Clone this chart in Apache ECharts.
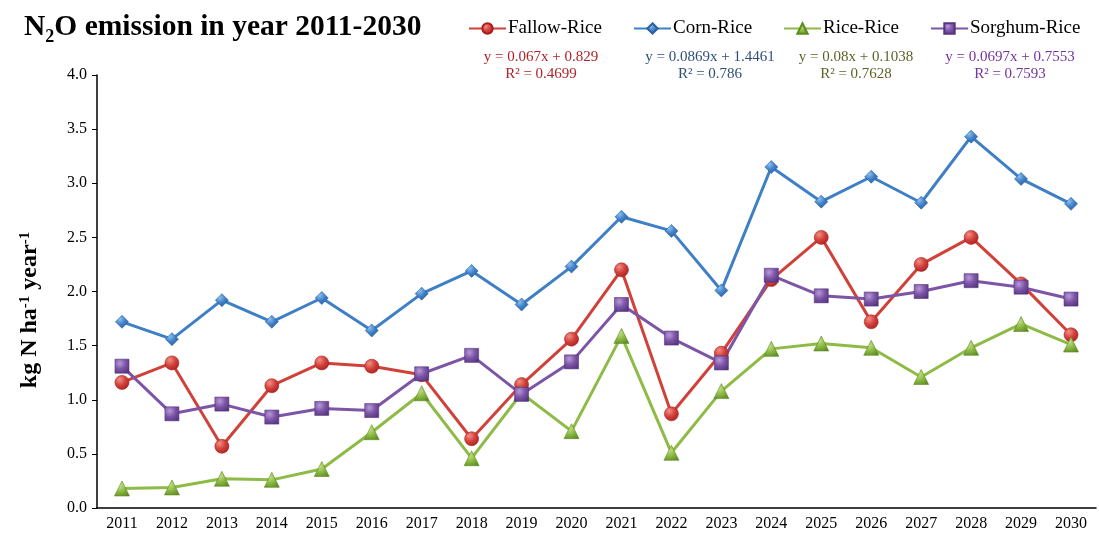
<!DOCTYPE html>
<html><head><meta charset="utf-8">
<script src="https://cdn.jsdelivr.net/npm/echarts@6/dist/echarts.min.js"></script>
<style>html,body{margin:0;padding:0;background:#fff}#c{width:1099px;height:541px}</style>
</head><body><div id="c"></div>
<script>
const years = ['2011','2012','2013','2014','2015','2016','2017','2018','2019','2020','2021','2022','2023','2024','2025','2026','2027','2028','2029','2030'];
const fallowRice  = [1.16,1.34,0.57,1.13,1.34,1.31,1.23,0.64,1.14,1.56,2.20,0.87,1.43,2.11,2.50,1.72,2.25,2.50,2.07,1.60];
const cornRice    = [1.72,1.56,1.92,1.72,1.94,1.64,1.98,2.19,1.88,2.23,2.69,2.56,2.01,3.15,2.83,3.06,2.82,3.43,3.04,2.81];
const riceRice    = [0.18,0.19,0.27,0.26,0.36,0.70,1.06,0.46,1.06,0.71,1.59,0.51,1.08,1.47,1.52,1.48,1.21,1.48,1.70,1.51];
const sorghumRice = [1.31,0.87,0.96,0.84,0.92,0.90,1.24,1.41,1.05,1.35,1.88,1.57,1.34,2.15,1.96,1.93,2.00,2.10,2.04,1.93];
const seriesNames = ['Fallow-Rice','Corn-Rice','Rice-Rice','Sorghum-Rice'];
const equations = ['y = 0.067x + 0.829','y = 0.0869x + 1.4461','y = 0.08x + 0.1038','y = 0.0697x + 0.7553'];
const rSquared  = ['R² = 0.4699','R² = 0.786','R² = 0.7628','R² = 0.7593'];

const lineColors = ['#D0413A','#3E7FC6','#8DBB45','#7D55A6'];
const eqColors = ['#B0232A','#2F4F7A','#5E6228','#7332A0'];
const eqX = [541, 710, 856, 1010];
const legendX = [463, 628, 778, 925];
const symbols = ['circle','diamond','triangle','rect'];
const symSizes = [14,13,15,14];
const light = ['#F58C86','#8EC0F0','#C8E08E','#B79AD8'];
const dark  = ['#A81E1E','#2A5FA0','#5E8A22','#553480'];
const font = '"Liberation Serif", "Times New Roman", serif';

function grad(i){
  return new echarts.graphic.RadialGradient(0.35,0.3,0.8,[
    {offset:0,color:light[i]},{offset:0.5,color:lineColors[i]},{offset:1,color:dark[i]}]);
}
const datas = [fallowRice, cornRice, riceRice, sorghumRice];
const series = seriesNames.map((n,i)=>({
  name:n, type:'line', data:datas[i], symbol:symbols[i], symbolSize:symSizes[i],
  showAllSymbol:true,
  lineStyle:{color:lineColors[i], width:3},
  itemStyle:{color:grad(i), borderColor:dark[i], borderWidth:0.6},
  z: i===1?3:2
}));

const legends = seriesNames.map((n,i)=>({
  left:legendX[i], top:14, itemWidth:37, itemHeight:13, data:[n], selectedMode:false,
  textStyle:{fontFamily:font, fontSize:19, color:'#000', padding:[0,0,0,-3]}
}));

const graphics = [];
equations.forEach((e,i)=>{
  graphics.push({type:'text', x:eqX[i], y:57, style:{text:e, fill:eqColors[i], font:'15px '+font, textAlign:'center', textVerticalAlign:'middle'}});
  graphics.push({type:'text', x:eqX[i], y:74, style:{text:rSquared[i], fill:eqColors[i], font:'15px '+font, textAlign:'center', textVerticalAlign:'middle'}});
});
graphics.push({type:'text', x:30, y:310, rotation:Math.PI/2,
  style:{text:'{b|kg N ha}{s|-1}{b| year}{s|-1}', textAlign:'center', textVerticalAlign:'middle',
    rich:{b:{fontFamily:font, fontWeight:'bold', fontSize:24, fill:'#000', color:'#000', lineHeight:24, verticalAlign:'bottom'},
          s:{fontFamily:font, fontWeight:'bold', fontSize:15, fill:'#000', color:'#000', lineHeight:24, verticalAlign:'top'}}}});
graphics.push({type:'text', x:24, y:12,
  style:{text:'{b|N}{s|2}{b|O emission in year 2011-2030}', textAlign:'left', textVerticalAlign:'top',
    rich:{b:{fontFamily:font, fontWeight:'bold', fontSize:29.5, fill:'#000', color:'#000', lineHeight:34, verticalAlign:'top'},
          s:{fontFamily:font, fontWeight:'bold', fontSize:18, fill:'#000', color:'#000', lineHeight:34, verticalAlign:'bottom'}}}});

const chart = echarts.init(document.getElementById('c'));
chart.setOption({
  animation:false,
  backgroundColor:'#fff',
  legend:legends,
  grid:{left:97, right:3, top:75, bottom:33},
  xAxis:{type:'category', data:years, boundaryGap:true,
    axisLine:{lineStyle:{color:'#000', width:1.5}},
    axisTick:{alignWithLabel:true, length:5, lineStyle:{color:'#000'}},
    axisLabel:{fontFamily:font, fontSize:16, color:'#000', margin:8}},
  yAxis:{type:'value', min:0, max:4, interval:0.5,
    axisLine:{show:true, lineStyle:{color:'#000', width:1.5}},
    axisTick:{show:true, length:5, lineStyle:{color:'#000'}},
    splitLine:{show:false},
    axisLabel:{fontFamily:font, fontSize:16, color:'#000', margin:10, formatter:v=>v.toFixed(1)}},
  series:series,
  graphic:graphics
});
</script></body></html>
